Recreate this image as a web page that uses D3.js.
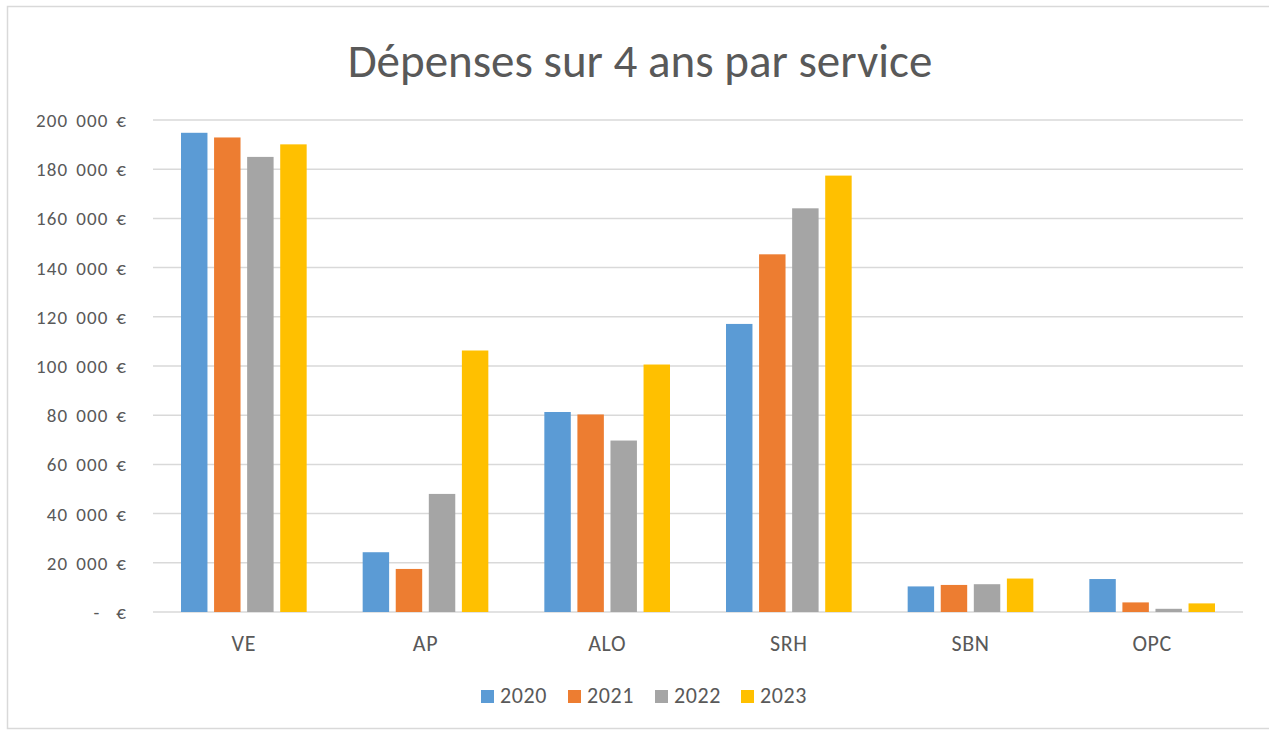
<!DOCTYPE html>
<html>
<head>
<meta charset="utf-8">
<script src="https://cdn.jsdelivr.net/npm/d3@7"></script>
<style>
  body { margin: 0; background: #fff; }
  svg text { font-family: Carlito, Lato, "Open Sans", sans-serif; fill: #595959; }
</style>
</head>
<body>
<div id="chart"></div>
<script>
// services (categories)
const services = ["VE", "AP", "ALO", "SRH", "SBN", "OPC"];
const years = ["2020", "2021", "2022", "2023"];
// spending per year, one value per service
const v2020 = [194800, 24300, 81300, 117100, 10400, 13400];
const v2021 = [192900, 17500, 80300, 145400, 11000, 3900];
const v2022 = [185000, 48000, 69700, 164100, 11300, 1300];
const v2023 = [190100, 106300, 100600, 177400, 13600, 3500];
const yTicks = [0, 20000, 40000, 60000, 80000, 100000, 120000, 140000, 160000, 180000, 200000];
const colors = ["#5B9BD5", "#ED7D31", "#A5A5A5", "#FFC000"];

{
  const W = 1269, H = 731;
  const margin = { top: 120, right: 26, bottom: 119, left: 153 };
  const series = [v2020, v2021, v2022, v2023];

  const svg = d3.select("#chart").append("svg")
    .attr("width", W).attr("height", H);

  // chart frame
  svg.append("rect")
    .attr("x", 7.5).attr("y", 6.5)
    .attr("width", W + 20).attr("height", 722)
    .attr("fill", "none").attr("stroke", "#d9d9d9").attr("stroke-width", 1.5);

  const x0 = d3.scaleBand()
    .domain(services)
    .range([margin.left, W - margin.right]);

  const pad = 28;
  const x1 = d3.scaleBand()
    .domain(years)
    .range([pad, x0.bandwidth() - pad])
    .paddingInner(0.2);

  const y = d3.scaleLinear()
    .domain([0, 200000])
    .range([H - margin.bottom, margin.top]);

  const fmt = v => v === 0 ? "-  €" : d3.format(",")(v).replace(/,/g, " ") + " €";

  // grid
  svg.append("g").selectAll("line")
    .data(yTicks)
    .enter().append("line")
      .attr("x1", margin.left).attr("x2", W - margin.right)
      .attr("y1", d => y(d)).attr("y2", d => y(d))
      .attr("stroke", "#d9d9d9").attr("stroke-width", 1.5);

  // y labels
  svg.append("g").selectAll("text")
    .data(yTicks)
    .enter().append("text")
      .attr("x", 127).attr("y", d => y(d) + 7)
      .attr("text-anchor", "end")
      .style("font-size", "19px")
      .style("letter-spacing", "1.1px")
      .style("word-spacing", "2.5px")
      .style("white-space", "pre")
      .text(fmt);

  // bars
  const groups = svg.append("g").selectAll("g")
    .data(services)
    .enter().append("g")
      .attr("transform", d => "translate(" + x0(d) + ",0)");

  groups.selectAll("rect")
    .data((s, i) => years.map((yr, k) => ({ yr, k, v: series[k][i] })))
    .enter().append("rect")
      .attr("x", d => x1(d.yr))
      .attr("width", x1.bandwidth())
      .attr("y", d => y(d.v))
      .attr("height", d => y(0) - y(d.v))
      .attr("fill", d => colors[d.k]);

  // x labels
  svg.append("g").selectAll("text")
    .data(services)
    .enter().append("text")
      .attr("x", d => x0(d) + x0.bandwidth() / 2)
      .attr("y", 651)
      .attr("text-anchor", "middle")
      .style("font-size", "22px")
      .style("letter-spacing", "0.6px")
      .text(d => d);

  // title
  svg.append("text")
    .attr("x", 640).attr("y", 77)
    .attr("text-anchor", "middle")
    .style("font-size", "47px")
    .text("Dépenses sur 4 ans par service");

  // legend
  const legX = [481, 568, 655, 741];
  const leg = svg.append("g").selectAll("g")
    .data(years)
    .enter().append("g")
      .attr("transform", (d, i) => "translate(" + legX[i] + ",690)");
  leg.append("rect")
    .attr("width", 13).attr("height", 13)
    .attr("fill", (d, i) => colors[i]);
  leg.append("text")
    .attr("x", 19).attr("y", 13)
    .style("font-size", "22px")
    .style("letter-spacing", "0.6px")
    .text(d => d);
}
</script>
</body>
</html>
